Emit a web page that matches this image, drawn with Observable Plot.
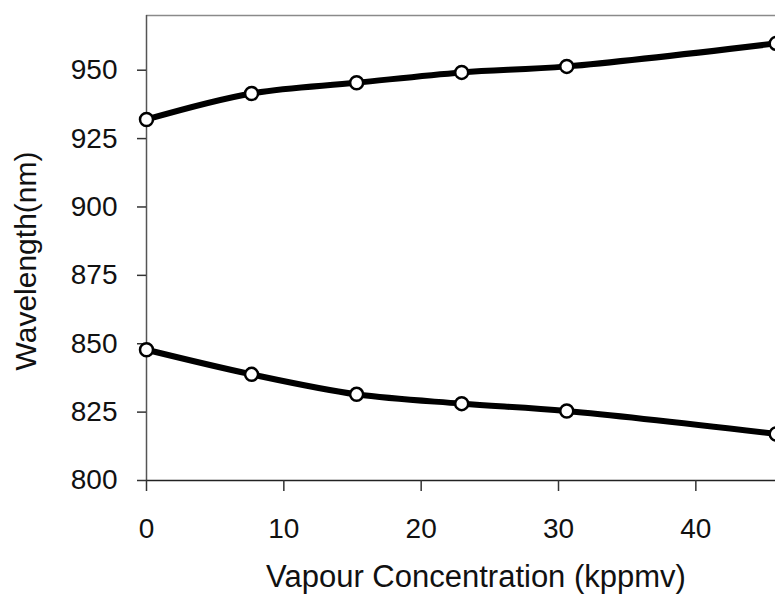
<!DOCTYPE html>
<html><head><meta charset="utf-8">
<script src="https://cdn.jsdelivr.net/npm/d3@7"></script>
<script src="https://cdn.jsdelivr.net/npm/@observablehq/plot@0.6"></script>
<style>body{margin:0;background:#fff;overflow:hidden} svg{display:block}</style>
</head><body><div id="chart"></div>
<script>
const concentration = [0, 7.65, 15.3, 22.95, 30.6, 45.85];
const upperWavelength = [932.0, 941.5, 945.4, 949.2, 951.4, 959.8];
const lowerWavelength = [847.8, 838.8, 831.5, 828.1, 825.4, 817.0];
const xTicks = [0, 10, 20, 30, 40];
const yTicks = [800, 825, 850, 875, 900, 925, 950];
const xTitle = "Vapour Concentration (kppmv)";
const yTitle = "Wavelength(nm)";
const series = [{name: "upper", values: upperWavelength}, {name: "lower", values: lowerWavelength}];
const rows = series.flatMap(s => concentration.map((c, i) => ({series: s.name, x: c, y: s.values[i]})));

const chart = Plot.plot({
  width: 775, height: 595,
  marginLeft: 146, marginRight: 0, marginTop: 15, marginBottom: 115,
  style: {fontFamily: "'Liberation Sans', Arial, sans-serif", fontSize: "28px", background: "white", overflow: "hidden"},
  x: {domain: [0, 45.8]},
  y: {domain: [800, 970]},
  marks: [
    Plot.ruleY([970], {stroke: "#8a8a8a", strokeWidth: 1.5}),
    Plot.ruleX([0], {stroke: "#555", strokeWidth: 1.5}),
    Plot.ruleY([800], {stroke: "#222", strokeWidth: 1.5}),
    Plot.axisY({ticks: yTicks, tickSize: 9, tickPadding: 20, fontSize: 28, label: null, stroke: "#333", fill: "#111", strokeWidth: 1.5}),
    Plot.axisX({ticks: xTicks, tickSize: 11, tickPadding: 27, fontSize: 28, label: null, stroke: "#333", fill: "#111", strokeWidth: 1.5}),
    Plot.line(rows, {x: "x", y: "y", z: "series", curve: "catmull-rom", stroke: "black", strokeWidth: 6}),
    Plot.dot(rows, {x: "x", y: "y", r: 6.5, fill: "white", stroke: "black", strokeWidth: 2.5}),
    Plot.text([xTitle], {frameAnchor: "bottom", dy: 97, dx: 15, fontSize: 31, lineAnchor: "middle", textAnchor: "middle", text: d => d, fill: "#111"}),
    Plot.text([yTitle], {frameAnchor: "left", rotate: -90, dx: -120, dy: 13, fontSize: 30, lineAnchor: "middle", textAnchor: "middle", text: d => d, fill: "#111"})
  ]
});
document.getElementById("chart").append(chart);
</script>
</body></html>
